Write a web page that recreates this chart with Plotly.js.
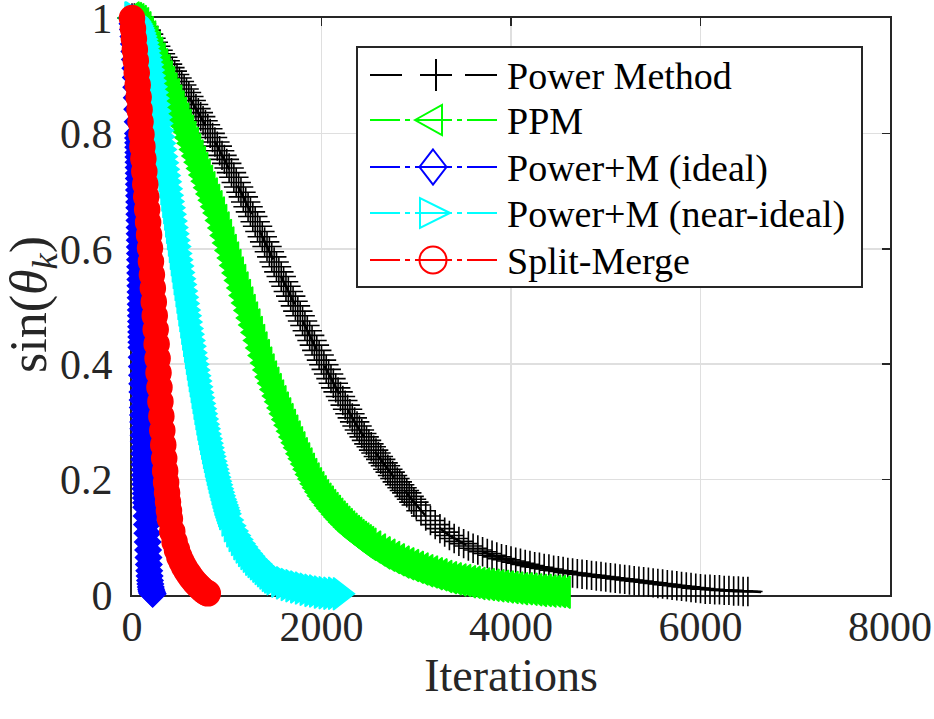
<!DOCTYPE html>
<html><head><meta charset="utf-8">
<script src="https://cdn.plot.ly/plotly-3.0.1.min.js"></script>
<style>html,body{margin:0;padding:0;background:#fff;}#chart{width:934px;height:719px;}</style>
</head><body><div id="chart"></div>
<script>
// ---------- data ----------
const seriesNames = ['Power Method', 'PPM', 'Power+M (ideal)', 'Power+M (near-ideal)', 'Split-Merge'];
const xTitle = 'Iterations';
const yTitle = 'sin(<i>θ</i><sub><i>k</i></sub>)';
const xTickVals = [0, 2000, 4000, 6000, 8000];
const xTickText = ['0', '2000', '4000', '6000', '8000'];
const yTickVals = [0, 0.2, 0.4, 0.6, 0.8, 1];
const yTickText = ['0', '0.2', '0.4', '0.6', '0.8', '1'];

const powerK = [0,25,50,75,100,125,150,175,200,225,250,275,300,325,350,375,400,425,450,475,500,525,550,575,600,625,650,675,700,725,750,775,800,825,850,875,900,925,950,975,
1000,1025,1050,1075,1100,1125,1150,1175,1200,1225,1250,1275,1300,1325,1350,1375,1400,1425,1450,1475,1500,1525,1550,1575,1600,1625,1650,1675,1700,1725,1750,1775,1800,1825,1850,1875,1900,1925,1950,1975,
2000,2025,2050,2075,2100,2125,2150,2175,2200,2225,2250,2275,2300,2325,2350,2375,2400,2425,2450,2475,2500,2525,2550,2575,2600,2625,2650,2675,2700,2725,2750,2775,2800,2825,2850,2875,2900,2925,2950,2975,3000,
3050,3100,3150,3200,3250,3300,3350,3400,3450,3500,3550,3600,3650,3700,3750,3800,3850,3900,3950,4000,4050,4100,4150,4200,4250,4300,4350,4400,4450,4500,4550,4600,4650,4700,4750,4800,4850,4900,4950,5000,
5050,5100,5150,5200,5250,5300,5350,5400,5450,5500,5550,5600,5650,5700,5750,5800,5850,5900,5950,6000,6050,6100,6150,6200,6250,6300,6350,6400,6450,6500,6550,6600,6650,6700,6770];
const powerY = [1.000,1.000,0.998,0.995,0.990,0.985,0.979,0.972,0.965,0.958,0.951,0.944,0.938,0.932,0.926,0.920,0.914,0.908,0.902,0.896,0.890,0.884,0.877,0.871,0.864,0.857,0.850,0.843,0.836,0.829,0.822,0.815,0.808,0.800,0.793,0.785,0.778,0.770,0.762,0.755,
0.748,0.740,0.732,0.724,0.715,0.707,0.698,0.690,0.681,0.673,0.664,0.656,0.647,0.639,0.630,0.621,0.612,0.604,0.595,0.586,0.577,0.569,0.560,0.552,0.543,0.535,0.526,0.518,0.509,0.501,0.492,0.484,0.475,0.467,0.458,0.450,0.441,0.433,0.424,0.416,
0.407,0.399,0.391,0.383,0.375,0.367,0.359,0.352,0.344,0.337,0.329,0.322,0.314,0.307,0.300,0.293,0.286,0.280,0.274,0.268,0.262,0.257,0.251,0.246,0.240,0.235,0.229,0.224,0.218,0.213,0.207,0.202,0.196,0.191,0.186,0.181,0.177,0.171,0.166,0.161,0.156,
0.146,0.137,0.129,0.122,0.115,0.109,0.103,0.098,0.093,0.089,0.085,0.081,0.078,0.075,0.072,0.069,0.066,0.063,0.061,0.059,0.057,0.055,0.053,0.051,0.049,0.048,0.046,0.045,0.043,0.042,0.041,0.039,0.038,0.037,0.036,0.035,0.034,0.033,0.032,0.031,
0.030,0.029,0.028,0.027,0.026,0.025,0.024,0.023,0.022,0.021,0.020,0.019,0.018,0.017,0.016,0.015,0.014,0.013,0.012,0.011,0.010,0.010,0.009,0.009,0.008,0.008,0.007,0.007,0.006,0.006,0.006,0.005,0.005,0.005,0.004];

const ppmK = [0,25,50,75,100,125,150,175,200,225,250,275,300,325,350,375,400,425,450,475,500,525,550,575,600,625,650,675,700,725,750,775,800,825,850,875,900,925,950,975,
1000,1025,1050,1075,1100,1125,1150,1175,1200,1225,1250,1275,1300,1325,1350,1375,1400,1425,1450,1475,1500,1525,1550,1575,1600,1625,1650,1675,1700,1725,1750,1775,1800,1825,1850,1875,1900,1925,1950,1975,
2000,2025,2050,2075,2100,2125,2150,2175,2200,2225,2250,2275,2300,2325,2350,2375,2400,2425,2450,2475,2500,
2550,2600,2650,2700,2750,2800,2850,2900,2950,3000,3050,3100,3150,3200,3250,3300,3350,3400,3450,3500,3550,3600,3650,3700,3750,3800,3850,3900,3950,4000,4050,4100,4150,4200,4250,4300,4350,4400,4450,4500,4550];
const ppmY = [1.000,0.999,0.997,0.994,0.990,0.983,0.975,0.967,0.958,0.949,0.939,0.929,0.919,0.909,0.898,0.888,0.877,0.867,0.856,0.846,0.835,0.825,0.814,0.804,0.793,0.783,0.772,0.761,0.750,0.739,0.728,0.717,0.706,0.695,0.684,0.673,0.662,0.649,0.636,0.623,
0.610,0.597,0.584,0.571,0.558,0.545,0.532,0.519,0.506,0.493,0.480,0.468,0.455,0.441,0.428,0.415,0.402,0.390,0.378,0.367,0.356,0.345,0.335,0.324,0.314,0.304,0.294,0.284,0.274,0.264,0.255,0.245,0.236,0.227,0.218,0.209,0.201,0.193,0.186,0.179,
0.172,0.166,0.161,0.155,0.150,0.145,0.140,0.135,0.131,0.126,0.122,0.118,0.114,0.110,0.107,0.103,0.100,0.097,0.094,0.091,0.088,
0.083,0.078,0.073,0.069,0.065,0.061,0.057,0.054,0.051,0.048,0.045,0.042,0.040,0.037,0.035,0.032,0.030,0.028,0.026,0.025,0.023,0.022,0.020,0.019,0.018,0.017,0.016,0.015,0.014,0.013,0.012,0.011,0.011,0.010,0.009,0.008,0.008,0.007,0.007,0.006,0.005];

const idealK = [0,5,10,15,20,25,30,35,40,45,50,55,60,
63,64,65,66,67,68,69,70,71,72,73,74,75,76,77,78,79,80,81,82,83,84,85,86,87,88,89,90,91,92,93,94,95,96,97,98,99,100,
102,104,106,108,110,112,114,116,118,120,122,124,126,128,130,132,134,136,138,140,142,144,146,148,150,
154,158,162,166,170,174,178,182,186,190,194,198,202,206,210,214,218];
const idealY = [1.000,0.990,0.980,0.968,0.955,0.942,0.928,0.913,0.897,0.880,0.862,0.842,0.820,
0.800,0.792,0.784,0.776,0.767,0.759,0.750,0.741,0.731,0.722,0.712,0.702,0.692,0.681,0.671,0.660,0.649,0.637,0.626,0.615,0.603,0.592,0.581,0.569,0.558,0.547,0.536,0.525,0.515,0.504,0.494,0.484,0.474,0.465,0.456,0.447,0.438,0.429,
0.412,0.396,0.381,0.366,0.352,0.338,0.325,0.312,0.300,0.288,0.277,0.266,0.255,0.245,0.235,0.226,0.217,0.208,0.200,0.192,0.184,0.176,0.168,0.160,0.152,
0.137,0.122,0.107,0.092,0.078,0.065,0.053,0.042,0.033,0.025,0.019,0.014,0.010,0.007,0.005,0.003,0.002];

const nearK = [0,10,20,30,40,50,60,70,80,90,100,110,120,130,140,150,160,170,180,190,200,210,220,230,240,250,260,270,280,290,300,310,320,330,340,350,360,370,380,390,
400,410,420,430,440,450,460,470,480,490,500,510,520,530,540,550,560,570,580,590,600,610,620,630,640,650,660,670,680,690,700,710,720,730,740,750,760,770,780,790,
800,810,820,830,840,850,860,870,880,890,900,910,920,930,940,950,960,970,980,990,1000,
1025,1050,1075,1100,1125,1150,1175,1200,1225,1250,1275,1300,1325,1350,1375,1400,1425,1450,1475,1500,
1550,1600,1650,1700,1750,1800,1850,1900,1950,2000,2050,2100,2150,2200];
const nearY = [1.000,1.000,0.999,0.997,0.995,0.993,0.990,0.987,0.983,0.979,0.974,0.969,0.963,0.957,0.950,0.943,0.935,0.927,0.919,0.910,0.900,0.891,0.881,0.871,0.861,0.850,0.839,0.828,0.817,0.805,0.794,0.783,0.772,0.760,0.749,0.738,0.727,0.716,0.704,0.693,
0.682,0.671,0.660,0.648,0.637,0.626,0.615,0.604,0.592,0.581,0.570,0.559,0.548,0.538,0.527,0.516,0.505,0.494,0.484,0.473,0.462,0.452,0.441,0.431,0.420,0.410,0.400,0.390,0.380,0.371,0.361,0.351,0.342,0.332,0.323,0.314,0.305,0.296,0.288,0.279,
0.271,0.263,0.255,0.247,0.240,0.232,0.225,0.218,0.211,0.204,0.197,0.191,0.184,0.178,0.172,0.166,0.161,0.156,0.151,0.146,0.141,
0.130,0.120,0.111,0.103,0.096,0.089,0.083,0.077,0.072,0.067,0.062,0.058,0.054,0.050,0.046,0.042,0.038,0.034,0.031,0.028,
0.024,0.021,0.018,0.016,0.014,0.012,0.010,0.008,0.007,0.005,0.004,0.003,0.003,0.002];

const splitK = [0,10,20,30,40,50,60,70,80,90,100,110,120,130,140,150,160,170,180,190,200,210,220,230,240,250,260,270,280,290,300,310,320,330,340,350,360,370,380,390,400,425,450,475,500,525,550,575,600,625,650,675,700,725,750,775,800];
const splitY = [1.000,0.982,0.964,0.945,0.926,0.905,0.884,0.863,0.841,0.820,0.798,0.777,0.756,0.734,0.712,0.690,0.668,0.646,0.624,0.601,0.578,0.555,0.532,0.508,0.484,0.460,0.435,0.410,0.385,0.360,0.335,0.310,0.285,0.260,0.237,0.215,0.195,0.177,0.161,0.146,0.132,
0.110,0.092,0.078,0.066,0.057,0.049,0.042,0.036,0.030,0.025,0.020,0.016,0.012,0.008,0.005,0.003];

// ---------- styling ----------
const FONT = '"Liberation Serif", "Times New Roman", serif';
const AXC = '#262626';
const C = {black:'#000000', green:'#00ff00', blue:'#0000ff', cyan:'#00ffff', red:'#ff0000'};
const X_RANGE = [0, 8000], Y_RANGE = [0, 1];
const M = {l:132, r:44, t:18, b:124};
const W = 934, H = 719;
const PW = W - M.l - M.r, PH = H - M.t - M.b;
function toX(px){ return X_RANGE[0] + (px - M.l) / PW * (X_RANGE[1] - X_RANGE[0]); }
function toY(py){ return Y_RANGE[0] + (M.t + PH - py) / PH * (Y_RANGE[1] - Y_RANGE[0]); }

const powerMarkK = powerK.filter(k => k <= 6500);
const powerMarkY = powerY.slice(0, powerMarkK.length);

const traces = [
  {x: powerK, y: powerY, type:'scatter', mode:'lines', name: seriesNames[0], showlegend:false, hoverinfo:'skip',
   line:{color:C.black, width:2.5, dash:'32px,18px'}},
  {x: powerMarkK, y: powerMarkY, type:'scatter', mode:'markers', name: seriesNames[0], showlegend:false, hoverinfo:'skip', cliponaxis:false,
   marker:{symbol:'cross-thin', size:21, color:C.black, line:{color:C.black, width:1.6}}},
  {x: ppmK, y: ppmY, type:'scatter', mode:'lines+markers', name: seriesNames[1], showlegend:false, hoverinfo:'skip', cliponaxis:false,
   line:{color:C.green, width:2, dash:'dashdot'},
   marker:{symbol:'triangle-left', size:28, color:C.green, line:{color:C.green, width:1.5}}},
  {x: idealK, y: idealY, type:'scatter', mode:'lines+markers', name: seriesNames[2], showlegend:false, hoverinfo:'skip', cliponaxis:false,
   line:{color:C.blue, width:2, dash:'dashdot'},
   marker:{symbol:'diamond', size:20, color:C.blue, line:{color:C.blue, width:1.5}}},
  {x: nearK, y: nearY, type:'scatter', mode:'lines+markers', name: seriesNames[3], showlegend:false, hoverinfo:'skip', cliponaxis:false,
   line:{color:C.cyan, width:2, dash:'dashdot'},
   marker:{symbol:'triangle-right', size:28, color:C.cyan, line:{color:C.cyan, width:1.5}}},
  {x: splitK, y: splitY, type:'scatter', mode:'lines+markers', name: seriesNames[4], showlegend:false, hoverinfo:'skip', cliponaxis:false,
   line:{color:C.red, width:2, dash:'dashdot'},
   marker:{symbol:'circle', size:25, color:C.red, line:{color:C.red, width:1.5}}}
];

// ---------- custom legend (MATLAB style) ----------
const LEG = {left:357, right:862, top:47, bottom:287, lineL:370, lineR:497, mark:433, text:505, rows:[75,120,167,213,260]};
const legItems = [
  {color:C.black, dash:'32px,18px', path:'M-13,0H19M3,-16V16'},
  {color:C.green, dash:'30px,5px,5px,5px', path:'M-18,0L9,15L9,-15Z'},
  {color:C.blue, dash:'30px,5px,5px,5px', path:'M0,17.5L13.5,0L0,-17.5L-13.5,0Z'},
  {color:C.cyan, dash:'30px,5px,5px,5px', path:'M17,0L-13,15L-13,-15Z'},
  {color:C.red, dash:'30px,5px,5px,5px', circle:13.5}
];
const shapes = [{type:'rect', xref:'x', yref:'y', layer:'between',
  x0:toX(LEG.left), x1:toX(LEG.right), y0:toY(LEG.bottom), y1:toY(LEG.top),
  fillcolor:'#ffffff', line:{color:AXC, width:2}}];
const annotations = [];
legItems.forEach((it, i) => {
  const ry = toY(LEG.rows[i]);
  shapes.push({type:'line', xref:'x', yref:'y', layer:'above', x0:toX(LEG.lineL), x1:toX(LEG.mark), y0:ry, y1:ry,
    line:{color:it.color, width:2, dash:it.dash}});
  shapes.push({type:'line', xref:'x', yref:'y', layer:'above', x0:toX(LEG.lineR), x1:toX(LEG.mark), y0:ry, y1:ry,
    line:{color:it.color, width:2, dash:it.dash}});
  if (it.circle) {
    shapes.push({type:'circle', xref:'x', yref:'y', layer:'above', xsizemode:'pixel', ysizemode:'pixel',
      xanchor:toX(LEG.mark), yanchor:ry, x0:-it.circle, x1:it.circle, y0:-it.circle, y1:it.circle,
      line:{color:it.color, width:2}});
  } else {
    shapes.push({type:'path', xref:'x', yref:'y', layer:'above', xsizemode:'pixel', ysizemode:'pixel',
      xanchor:toX(LEG.mark), yanchor:ry, path:it.path, line:{color:it.color, width:2}});
  }
  annotations.push({xref:'x', yref:'y', x:toX(LEG.text), y:toY(LEG.rows[i] + 1), xanchor:'left', yanchor:'middle',
    text:seriesNames[i], showarrow:false, font:{family:FONT, size:38, color:'#000000'}});
});
// y-axis title placed as rotated text in the left margin
annotations.push({xref:'paper', yref:'paper', x:(32 - M.l) / PW, y:(M.t + PH - 305) / PH, xanchor:'center', yanchor:'middle',
  textangle:-90, text:yTitle, showarrow:false, font:{family:FONT, size:52, color:AXC}});

const axisCommon = {
  showline:true, linecolor:AXC, linewidth:2, mirror:'ticks',
  ticks:'inside', ticklen:8, tickwidth:1.5, tickcolor:AXC,
  showgrid:true, gridcolor:'#dfdfdf', gridwidth:1.5, zeroline:false, ticklabeloverflow:'allow',
  layer:'below traces', tickfont:{family:FONT, size:42, color:AXC}, fixedrange:true
};

const layout = {
  width:W, height:H, margin:M, paper_bgcolor:'#ffffff', plot_bgcolor:'#ffffff',
  font:{family:FONT, color:AXC}, showlegend:false,
  xaxis: Object.assign({}, axisCommon, {range:X_RANGE, tickmode:'array', tickvals:xTickVals, ticktext:xTickText,
    ticklabelstandoff:-6,
    title:{text:xTitle, font:{family:FONT, size:46, color:AXC}, standoff:6}}),
  yaxis: Object.assign({}, axisCommon, {range:Y_RANGE, tickmode:'array', tickvals:yTickVals, ticktext:yTickText,
    ticklabelstandoff:9}),
  shapes:shapes, annotations:annotations
};

Plotly.newPlot('chart', traces, layout, {staticPlot:true, displayModeBar:false});
</script></body></html>
